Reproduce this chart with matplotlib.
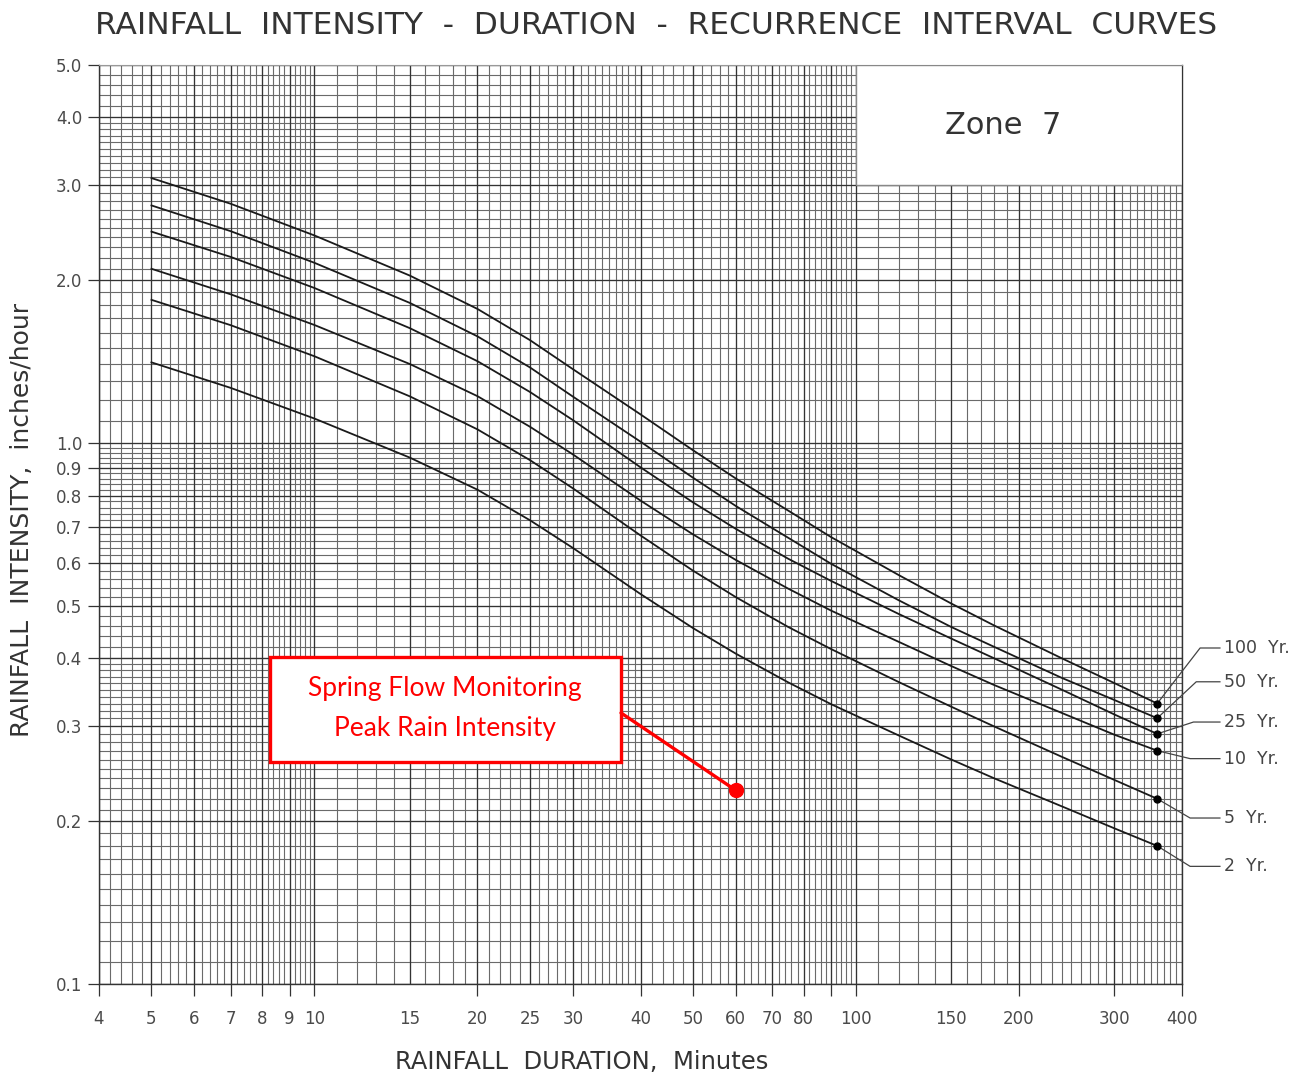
import numpy as np
import matplotlib
matplotlib.use('Agg')  # no GUI window
import matplotlib.pyplot as plt
from matplotlib.patches import Rectangle
from matplotlib.ticker import NullLocator

plt.rcParams['font.family'] = ['DejaVu Sans']

# durations in minutes (x) and intensities in inches/hour (y)
durations = [5, 7, 10, 15, 20, 25, 30, 40, 50, 60, 75, 90, 120, 150, 180, 240, 300, 360]
yr100 = [3.09, 2.77, 2.42, 2.04, 1.77, 1.55, 1.37, 1.13, 0.97, 0.86, 0.75, 0.67,
         0.57, 0.505, 0.46, 0.40, 0.36, 0.33]
yr50 = [2.75, 2.465, 2.154, 1.816, 1.575, 1.38, 1.219, 1.006, 0.863, 0.765, 0.668, 0.598,
        0.512, 0.457, 0.42, 0.368, 0.335, 0.31]
yr25 = [2.46, 2.209, 1.935, 1.631, 1.417, 1.243, 1.103, 0.902, 0.777, 0.694, 0.611, 0.556,
        0.483, 0.435, 0.40, 0.35, 0.315, 0.29]
yr10 = [2.10, 1.884, 1.653, 1.40, 1.221, 1.072, 0.953, 0.783, 0.678, 0.608, 0.538, 0.49,
        0.429, 0.387, 0.357, 0.317, 0.289, 0.27]
yr5 = [1.84, 1.652, 1.447, 1.22, 1.06, 0.93, 0.825, 0.675, 0.581, 0.519, 0.457, 0.416,
       0.3615, 0.3255, 0.2993, 0.263, 0.2384, 0.22]
yr2 = [1.41, 1.265, 1.11, 0.94, 0.82, 0.72, 0.64, 0.526, 0.455, 0.408, 0.361, 0.329,
       0.288, 0.26, 0.24, 0.213, 0.194, 0.18]
curve_names = ['100  Yr.', '50  Yr.', '25  Yr.', '10  Yr.', '5  Yr.', '2  Yr.']

# the red marker
peak_duration = 60
peak_intensity = 0.228

x_ticks = [4, 5, 6, 7, 8, 9, 10, 15, 20, 25, 30, 40, 50, 60, 70, 80, 90, 100, 150, 200, 300, 400]
x_ticklabels = ['4', '5', '6', '7', '8', '9', '10', '15', '20', '25', '30', '40', '50', '60',
                '70', '80', '', '100', '150', '200', '300', '400']
y_ticks = [0.1, 0.2, 0.3, 0.4, 0.5, 0.6, 0.7, 0.8, 0.9, 1.0, 2.0, 3.0, 4.0, 5.0]

W, H = 1312, 1074
fig = plt.figure(figsize=(W / 100, H / 100), dpi=100)
ax = fig.add_axes([99 / W, 90 / H, 1083 / W, 919 / H])
ax.set_xscale('log')
ax.set_yscale('log')
ax.set_xlim(4, 400)
ax.set_ylim(0.1, 5)

# log paper grid
gx = np.concatenate([np.arange(4, 10, 0.2), np.arange(10, 40, 1),
                     np.arange(40, 100, 2), np.arange(100, 401, 10)])
gy = np.concatenate([np.arange(0.1, 0.4, 0.01), np.arange(0.4, 1.0, 0.02),
                     np.arange(1.0, 4.0, 0.1), np.arange(4.0, 5.01, 0.2)])
ax.vlines(gx, 0.1, 5, colors='#6a6a6a', lw=0.8, zorder=1)
ax.hlines(gy, 4, 400, colors='#6a6a6a', lw=0.8, zorder=1)
ax.vlines(x_ticks, 0.1, 5, colors='#333333', lw=0.9, zorder=1.1)
ax.hlines(y_ticks, 4, 400, colors='#333333', lw=0.9, zorder=1.1)

# zone box blanks the grid in the top right
ax.add_patch(Rectangle((100, 3.0), 300, 2.0, facecolor='white', edgecolor='#888888',
                       lw=1, zorder=3))
ax.text(0.835, 0.934, 'Zone  7', transform=ax.transAxes, ha='center', va='center',
        fontsize=22, color='#333333', zorder=4)

# curves
curves = [yr100, yr50, yr25, yr10, yr5, yr2]
label_y = [0.418, 0.362, 0.305, 0.261, 0.2027, 0.165]
knee_x = [432, 425, 420, 414, 414, 414]
for vals, name, ly, kx in zip(curves, curve_names, label_y, knee_x):
    ax.plot(durations, vals, color='#1a1a1a', lw=1.3, zorder=5)
    ax.plot(durations[-1], vals[-1], 'o', color='black', ms=5, zorder=6)
    ax.plot([durations[-1], kx, 470], [vals[-1], ly, ly], color='#444444', lw=0.9,
            clip_on=False, zorder=5)
    ax.text(478, ly, name, ha='left', va='center', fontsize=12.5, color='#444444')

# ticks
ax.xaxis.set_minor_locator(NullLocator())
ax.yaxis.set_minor_locator(NullLocator())
ax.set_xticks(x_ticks)
ax.set_xticklabels(x_ticklabels)
ax.set_yticks(y_ticks)
ax.set_yticklabels(['%.1f' % v for v in y_ticks])
ax.tick_params(axis='x', direction='out', length=8.5, width=0.9, pad=10,
               labelsize=12, labelcolor='#4a4a4a', color='#333333')
ax.tick_params(axis='y', direction='out', length=8, width=0.9, pad=4,
               labelsize=12, labelcolor='#4a4a4a', color='#333333')
for t, v in zip(ax.xaxis.get_major_ticks(), x_ticks):
    if v in (15, 25, 150):
        t.tick1line.set_visible(False)

for side in ['left', 'bottom', 'right']:
    ax.spines[side].set_color('#333333')
    ax.spines[side].set_linewidth(1.0)
ax.spines['top'].set_color('#999999')

# red callout
ax.add_patch(Rectangle((0.158, 0.2416), 0.324, 0.1142, transform=ax.transAxes,
                       facecolor='white', edgecolor='red', lw=2.4, zorder=7))
ax.text(0.3195, 0.322, 'Spring Flow Monitoring', transform=ax.transAxes, ha='center',
        va='center', fontsize=19, color='red', family='Lato', zorder=8)
ax.text(0.3195, 0.2775, 'Peak Rain Intensity', transform=ax.transAxes, ha='center',
        va='center', fontsize=19, color='red', family='Lato', zorder=8)
ax.annotate('', xy=(peak_duration, peak_intensity), xytext=(0.482, 0.295),
            textcoords='axes fraction',
            arrowprops=dict(arrowstyle='-', color='red', lw=2.4, shrinkA=0, shrinkB=0),
            zorder=7)
ax.plot(peak_duration, peak_intensity, 'o', color='red', ms=10, zorder=8)

# titles
fig.text(0.5, 1 - 26 / H,
         'RAINFALL  INTENSITY  -  DURATION  -  RECURRENCE  INTERVAL  CURVES',
         ha='center', va='center', fontsize=22.5, color='#333333')
fig.text(22 / W, 1 - 520 / H, 'RAINFALL  INTENSITY,  inches/hour', rotation=90,
         ha='center', va='center', fontsize=18, color='#333333')
fig.text(582 / W, 1 - 1062 / H, 'RAINFALL  DURATION,  Minutes', ha='center', va='center',
         fontsize=17.5, color='#333333')

fig.savefig('out.png', dpi=100)
